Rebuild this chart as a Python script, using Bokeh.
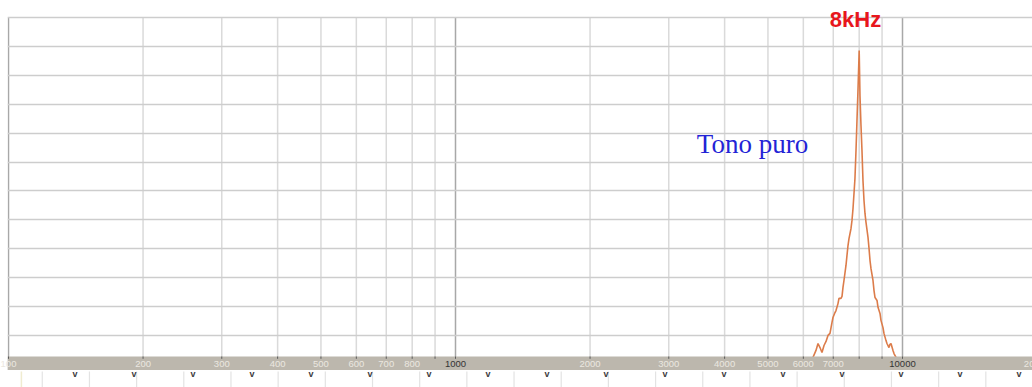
import numpy as np
from bokeh.plotting import figure
from bokeh.models import Range1d, FixedTicker, Grid, BoxAnnotation, Label, ColumnDataSource
from bokeh.layouts import column
from bokeh.core.properties import value
from bokeh.embed import file_html
from bokeh.resources import INLINE

# Spectrum of a pure 8 kHz tone: frequency (Hz) and level (display units)
freq_hz = [6306, 6404, 6471, 6537, 6605, 6674, 6744, 6812, 6883, 6955, 6990,
           7063, 7099, 7173, 7209, 7284, 7323, 7360, 7397, 7474, 7512, 7552,
           7591, 7670, 7709, 7750, 7789, 7828, 7870, 7910, 7950, 8000, 8033,
           8075, 8116, 8158, 8201, 8243, 8286, 8372, 8416, 8459, 8502, 8590,
           8635, 8680, 8770, 8815, 8906, 8951, 9044, 9090, 9185, 9232, 9327,
           9376, 9425, 9522, 9572, 9672]
level = [2.4, 4.8, 7.2, 5.8, 4.1, 6.5, 7.9, 10.0, 10.7, 14.5, 16.2,
         17.9, 18.6, 21.0, 22.8, 22.8, 23.5, 26.6, 29.0, 34.2, 37.6, 41.1,
         43.5, 47.0, 49.8, 53.9, 59.1, 64.3, 74.0, 84.4, 94.7, 108.6, 93.0,
         82.6, 74.0, 63.6, 56.7, 52.2, 49.1, 43.9, 40.1, 35.9, 33.1, 29.0,
         25.5, 23.1, 22.1, 19.7, 17.6, 15.2, 12.7, 10.7, 8.2, 7.2, 5.8,
         6.9, 7.2, 4.8, 3.7, 2.4]

# Frequency grid and scale labels
minor_ticks = [200, 300, 400, 500, 600, 700, 800, 900,
               2000, 3000, 4000, 5000, 6000, 7000, 8000, 9000]
major_ticks = [100, 1000, 10000]
label_freqs = [100, 200, 300, 400, 500, 600, 700, 800, 1000,
               2000, 3000, 4000, 5000, 6000, 7000, 10000, 20000]
label_texts = ["100", "200", "300", "400", "500", "600", "700", "800", "1000",
               "2000", "3000", "4000", "5000", "6000", "7000", "10000", "20000"]
level_ticks = [0, 10, 20, 30, 40, 50, 60, 70, 80, 90, 100, 110, 120]

peak_freq = 8000
peak_text = "8kHz"
note_text = "Tono puro"

# Ranges: 447 px per decade, 2.89 px per level unit; level 120 sits 17 px from the top
PX_DECADE = 447.0
PX_UNIT = 2.89
LEVEL_TOP = 120
x_start = 10 ** (2 - 1 / PX_DECADE)
x_end = 10 ** (4 + 130 / PX_DECADE)
y_end = LEVEL_TOP + 17 / PX_UNIT
y_start = LEVEL_TOP - 353 / PX_UNIT
band_top = LEVEL_TOP - 339 / PX_UNIT


def level_at(px_from_top):
    return LEVEL_TOP - (px_from_top - 17) / PX_UNIT


def freq_at(px_from_left):
    return 10 ** (3 + (px_from_left - 455) / PX_DECADE)


p = figure(width=1032, height=370, x_axis_type="log",
           x_range=Range1d(x_start, x_end), y_range=Range1d(y_start, y_end),
           x_axis_location=None, y_axis_location=None,
           output_backend="svg", toolbar_location=None,
           min_border_left=7, min_border_right=0,
           min_border_top=0, min_border_bottom=0)
p.outline_line_color = None
p.background_fill_color = "white"
p.border_fill_color = "white"
p.center = [c for c in p.center if not isinstance(c, Grid)]

# Horizontal grid
p.add_layout(Grid(dimension=1, ticker=FixedTicker(ticks=level_ticks),
                  grid_line_color="#cdcdcd", grid_line_width=1.5))

# Vertical frequency lines, stopping at the top level line
vm = p.segment(x0=minor_ticks, y0=[y_start] * len(minor_ticks), x1=minor_ticks,
               y1=[LEVEL_TOP] * len(minor_ticks), line_color="#dadada", line_width=1.5)
vm.level = "underlay"
vM = p.segment(x0=major_ticks, y0=[y_start] * len(major_ticks), x1=major_ticks,
               y1=[LEVEL_TOP] * len(major_ticks), line_color="#a8a8a8", line_width=1.5)
vM.level = "underlay"

# Spectrum trace
p.line(freq_hz, level, line_color="#dc7c4a", line_width=1.6)

# Scale band along the bottom
p.add_layout(BoxAnnotation(top=band_top, fill_color="#bcb7ad", fill_alpha=1.0,
                           line_color=None))

tick_x = minor_ticks + major_ticks
r = p.segment(x0=tick_x, y0=[band_top] * len(tick_x), x1=tick_x,
              y1=[band_top - 0.8] * len(tick_x), line_color="#5a5a5a", line_width=1)
r.level = "overlay"

label_colors = ["#333333" if f in (1000, 10000) else "#ebe7e0" for f in label_freqs]
label_src = ColumnDataSource(dict(x=label_freqs, y=[level_at(363)] * len(label_freqs),
                                  text=label_texts, color=label_colors))
t = p.text(x="x", y="y", text="text", source=label_src, text_color="color",
           text_align="center", text_baseline="middle",
           text_font=value("Liberation Sans"), text_font_size="9.5px")
t.level = "overlay"

# Annotations
p.add_layout(Label(x=freq_at(855), y=level_at(19), text=peak_text,
                   text_color="#e8161c", text_font_style="bold",
                   text_font="Liberation Sans", text_font_size="22px",
                   text_align="center", text_baseline="middle"))
p.add_layout(Label(x=freq_at(752), y=level_at(143),
                   text=note_text, text_color="#2323d6",
                   text_font="Liberation Serif", text_font_size="27px",
                   text_align="center", text_baseline="middle"))

# Strip below the scale band
s = figure(width=1032, height=17, x_range=Range1d(0, 1032), y_range=Range1d(0, 17),
           x_axis_location=None, y_axis_location=None,
           output_backend="svg", toolbar_location=None,
           min_border_left=0, min_border_right=0, min_border_top=0, min_border_bottom=0)
s.outline_line_color = None
s.center = [c for c in s.center if not isinstance(c, Grid)]
strip_lines = list(np.arange(35, 1033, 47.5))
s.segment(x0=[14], y0=[0], x1=[14], y1=[16], line_color="#f0ecd0", line_width=1.5)
s.segment(x0=strip_lines, y0=[0] * len(strip_lines), x1=strip_lines,
          y1=[16] * len(strip_lines), line_color="#e3e3e3", line_width=1.2)
strip_marks = list(np.arange(68, 1032, 59.4))
s.text(x=strip_marks, y=[14] * len(strip_marks), text=["v"] * len(strip_marks),
       text_align="center", text_baseline="middle", text_color="#3c3c3c",
       text_font=value("Liberation Sans"), text_font_size="9px",
       text_font_style="bold")

layout = column(p, s, spacing=0)
open("out.html", "w").write(file_html(layout, INLINE))
